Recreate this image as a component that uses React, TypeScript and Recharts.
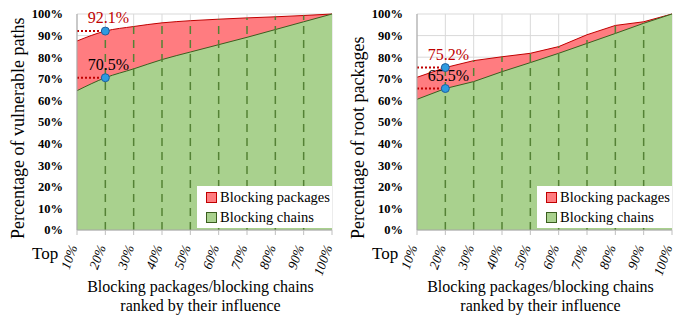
import React from "react";
import {
  AreaChart,
  Area,
  XAxis,
  YAxis,
  CartesianGrid,
  ReferenceLine,
  ReferenceDot,
} from "recharts";

const xTicks = [10, 20, 30, 40, 50, 60, 70, 80, 90, 100];
const yTicks = [0, 10, 20, 30, 40, 50, 60, 70, 80, 90, 100];

// left panel: vulnerable paths
const pathsPackages = [87.5, 92.1, 94.2, 95.9, 96.9, 97.6, 98.2, 98.7, 99.3, 100];
const pathsChains = [64.5, 70.5, 74.6, 78.9, 82.4, 85.8, 89.2, 92.8, 96.4, 100];

// right panel: root packages
const rootPackages = [70.7, 75.2, 78.4, 80.2, 81.8, 84.9, 90.4, 94.7, 96.4, 100];
const rootChains = [60.5, 65.5, 68.7, 73.3, 77.5, 81.8, 86.4, 91.0, 95.7, 100];

const FONT = "'Liberation Serif', 'Times New Roman', serif";
const RED = "#c00000";

const XTick = (props: any) => {
  const { x, y, payload } = props;
  return (
    <g transform={`translate(${x},${y})`}>
      <text
        x={-11}
        y={0}
        dy="0.35em"
        textAnchor="end"
        transform="rotate(-70)"
        fontFamily={FONT}
        fontSize={13.5}
        fontStyle="italic"
        fill="#000"
      >
        {payload.value}%
      </text>
    </g>
  );
};

const XTitle = (props: any) => {
  const { viewBox } = props;
  const cx = viewBox.x + viewBox.width / 2 - 4;
  const y = viewBox.y;
  return (
    <g fontFamily={FONT} fill="#000">
      <text x={32} y={y + 29} fontSize={17}>Top</text>
      <text x={cx} y={y + 62} fontSize={16} textAnchor="middle">
        Blocking packages/blocking chains
      </text>
      <text x={cx} y={y + 81} fontSize={16} textAnchor="middle">
        ranked by their influence
      </text>
    </g>
  );
};

const YTitle = (props: any) => (
  <text
    x={24}
    y={239}
    transform="rotate(-90 24 239)"
    fontFamily={FONT}
    fontSize={18}
    fill="#000"
  >
    {props.text}
  </text>
);

const ValueLabel = (props: any) => {
  const { viewBox, text, color } = props;
  const cx = viewBox.x + viewBox.width / 2;
  return (
    <text x={cx + 3} y={viewBox.y - 4} textAnchor="middle" fontFamily={FONT} fontSize={16} fill={color}>
      {text}
    </text>
  );
};

function Panel({
  width,
  rightMargin,
  yLabel,
  packages,
  chains,
  curve,
}: {
  width: number;
  rightMargin: number;
  yLabel: string;
  packages: number[];
  chains: number[];
  curve: "monotone" | "linear";
}) {
  const data = xTicks.map((x, i) => ({ x, packages: packages[i], chains: chains[i] }));
  const hiVal = packages[1];
  const loVal = chains[1];
  return (
    <div style={{ position: "relative", width, height: 316 }}>
      <AreaChart width={width} height={316} data={data} margin={{ top: 14, right: rightMargin, left: 0, bottom: 0 }}>
        <CartesianGrid stroke="#d9d9d9" />
        <XAxis
          dataKey="x"
          type="number"
          domain={[10, 100]}
          ticks={xTicks}
          interval={0}
          height={86}
          tickSize={5}
          tickMargin={0}
          tickLine={{ stroke: "#bfbfbf" }}
          tick={<XTick />}
          axisLine={{ stroke: "#a6a6a6" }}
          label={<XTitle />}
        />
        <YAxis
          type="number"
          domain={[0, 100]}
          ticks={yTicks}
          interval={0}
          width={77}
          tickSize={0}
          tickMargin={14}
          tickFormatter={(v: number) => `${v}%`}
          tick={{ fontFamily: FONT, fontSize: 12.5, fontWeight: "bold", fill: "#000" }}
          axisLine={{ stroke: "#a6a6a6" }}
          label={<YTitle text={yLabel} />}
        />
        <Area
          type={curve}
          dataKey="packages"
          fill="#ff7c80"
          fillOpacity={1}
          stroke={RED}
          strokeWidth={1}
          dot={false}
          activeDot={false}
          isAnimationActive={false}
        />
        <Area
          type={curve}
          dataKey="chains"
          fill="#a9d18e"
          fillOpacity={1}
          stroke="#3b5e1f"
          strokeWidth={1}
          dot={false}
          activeDot={false}
          isAnimationActive={false}
        />
        {xTicks.slice(1, -1).map((x, i) => (
          <ReferenceLine
            key={x}
            segment={[
              { x, y: 0 },
              { x, y: packages[i + 1] },
            ]}
            stroke="#548235"
            strokeDasharray="8 6"
            strokeWidth={1.5}
          />
        ))}
        <ReferenceLine
          segment={[
            { x: 10, y: hiVal },
            { x: 20, y: hiVal },
          ]}
          stroke={RED}
          strokeDasharray="2 2"
          strokeWidth={2}
        />
        <ReferenceLine
          segment={[
            { x: 10, y: loVal },
            { x: 20, y: loVal },
          ]}
          stroke={RED}
          strokeDasharray="2 2"
          strokeWidth={2}
        />
        <ReferenceDot
          x={20}
          y={hiVal}
          r={4}
          fill="#2e9be0"
          stroke="#1f5f9e"
          strokeWidth={1}
          label={<ValueLabel text={`${hiVal}%`} color={RED} />}
        />
        <ReferenceDot
          x={20}
          y={loVal}
          r={4}
          fill="#2e9be0"
          stroke="#1f5f9e"
          strokeWidth={1}
          label={<ValueLabel text={`${loVal}%`} color="#000" />}
        />
      </AreaChart>
      <div
        style={{
          position: "absolute",
          left: 197,
          top: 186,
          width: 135,
          height: 42,
          background: "#fff",
          fontFamily: FONT,
          fontSize: 14.5,
          lineHeight: "20px",
          whiteSpace: "nowrap",
          boxSizing: "border-box",
          paddingTop: 1,
          paddingLeft: 9,
        }}
      >
        {[
          { name: "Blocking packages", fill: "#ff7c80", stroke: RED },
          { name: "Blocking chains", fill: "#a9d18e", stroke: "#3b5e1f" },
        ].map((it) => (
          <div key={it.name} style={{ display: "flex", alignItems: "center", height: 20 }}>
            <span
              style={{
                display: "inline-block",
                flex: "none",
                width: 9,
                height: 9,
                background: it.fill,
                border: `1px solid ${it.stroke}`,
                marginRight: 3,
              }}
            />
            <span>{it.name}</span>
          </div>
        ))}
      </div>
    </div>
  );
}

export default function App() {
  return (
    <div style={{ position: "absolute", left: 0, top: 0, width: 675, height: 316, display: "flex", background: "#fff" }}>
      <Panel
        width={340}
        rightMargin={8}
        yLabel="Percentage of vulnerable paths"
        packages={pathsPackages}
        chains={pathsChains}
        curve="monotone"
      />
      <Panel
        width={335}
        rightMargin={3}
        yLabel="Percentage of root packages"
        packages={rootPackages}
        chains={rootChains}
        curve="linear"
      />
    </div>
  );
}
